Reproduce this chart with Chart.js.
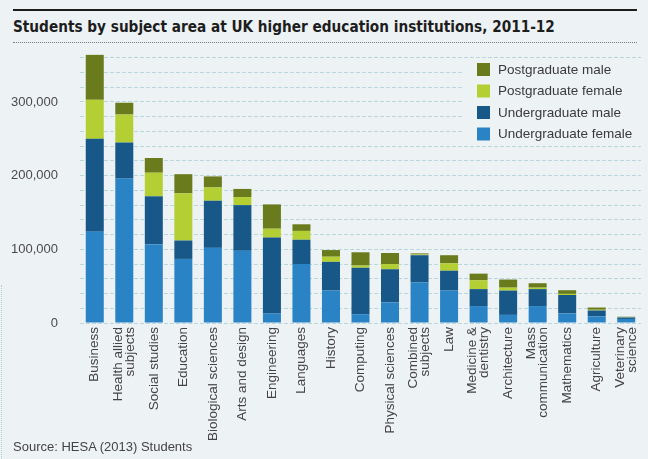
<!DOCTYPE html>
<html>
<head>
<meta charset="utf-8">
<script src="https://cdn.jsdelivr.net/npm/chart.js@4/dist/chart.umd.min.js"></script>
<style>
  html, body { margin: 0; padding: 0; background: #edf2f5; }
  body { width: 648px; height: 459px; position: relative; overflow: hidden; font-family: "Liberation Sans", Arial, sans-serif; }
  #topline { position: absolute; left: 13px; top: 9px; width: 624px; height: 0; border-top: 2px solid #1d1d1d; }
  #title { position: absolute; left: 13px; top: 18px; font-family: "DejaVu Sans Condensed", "Liberation Sans", sans-serif; font-weight: bold; font-size: 15.2px; color: #1d1d1d; white-space: nowrap; }
  #dotline { position: absolute; left: 13px; top: 42px; width: 624px; height: 0; border-top: 1px dotted #7a7a7a; }
  #leftdots { position: absolute; left: 1px; top: 285px; width: 0; height: 174px; border-left: 1px dotted #b5cbd3; }
  #source { position: absolute; left: 13px; top: 439px; font-size: 13px; color: #444; white-space: nowrap; }
  #c { position: absolute; left: 0; top: 28px; }
</style>
</head>
<body>
<div id="topline"></div>
<div id="title">Students by subject area at UK higher education institutions, 2011-12</div>
<div id="dotline"></div>
<div id="leftdots"></div>
<canvas id="c" width="648" height="431"></canvas>
<div id="source">Source: HESA (2013) Students</div>
<script>
const categories = [
  "Business", ["Health allied", "subjects"], "Social studies", "Education",
  "Biological sciences", "Arts and design", "Engineering", "Languages", "History",
  "Computing", "Physical sciences", ["Combined", "subjects"], "Law",
  ["Medicine &", "dentistry"], "Architecture", ["Mass", "communication"],
  "Mathematics", "Agriculture", ["Veterinary", "science"]
];
const undergraduateFemale = [124000, 196000, 107000, 87000, 102000, 98000, 13000, 80000, 44000, 12000, 28000, 55000, 44000, 23000, 11000, 23000, 13000, 9000, 5500];
const undergraduateMale   = [126000, 49000, 65000, 25000, 64000, 62000, 103000, 33000, 39000, 63000, 45000, 37000, 27000, 23000, 33000, 23000, 25000, 8000, 2000];
const postgraduateFemale  = [53000, 38000, 32000, 64000, 18000, 11000, 12000, 12000, 7000, 3000, 7000, 1000, 10000, 12000, 4000, 2000, 1500, 1000, 500];
const postgraduateMale    = [61000, 16000, 20000, 26000, 15000, 11000, 33000, 9000, 9000, 18000, 15000, 1500, 11000, 9000, 11000, 6000, 5000, 3000, 500];
const yTickLabels = [0, 100000, 200000, 300000];

const BG = '#edf2f5';
const CANVAS_TOP = 28;

const floatingLegend = {
  id: 'floatingLegend',
  afterDraw(chart) {
    const ctx = chart.ctx;
    ctx.save();
    ctx.fillStyle = BG;
    ctx.fillRect(463, 60 - CANVAS_TOP, 178, 85);
    const items = chart.data.datasets.slice().reverse();
    ctx.font = '13.5px "Liberation Sans", Arial, sans-serif';
    ctx.textBaseline = 'middle';
    ctx.textAlign = 'left';
    items.forEach((ds, i) => {
      const y = 63 - CANVAS_TOP + i * 21.5;
      ctx.fillStyle = ds.backgroundColor;
      ctx.fillRect(477, y, 13, 13);
      ctx.fillStyle = '#3a3a3a';
      ctx.fillText(ds.label, 498, y + 7);
    });
    ctx.restore();
  }
};

const xLabels = {
  id: 'xLabels',
  afterDraw(chart) {
    const ctx = chart.ctx;
    const xs = chart.scales.x;
    const top = chart.chartArea.bottom + 4;
    const lh = 12;
    ctx.save();
    ctx.font = '13.5px "Liberation Sans", Arial, sans-serif';
    ctx.fillStyle = '#444';
    ctx.textAlign = 'right';
    ctx.textBaseline = 'middle';
    chart.data.labels.forEach((lab, i) => {
      const lines = Array.isArray(lab) ? lab : [lab];
      const x = xs.getPixelForValue(i);
      ctx.save();
      ctx.translate(x, top);
      ctx.rotate(-Math.PI / 2);
      lines.forEach((ln, j) => {
        ctx.fillText(ln, 0, (j - (lines.length - 1) / 2) * lh);
      });
      ctx.restore();
    });
    ctx.restore();
  }
};

new Chart(document.getElementById('c'), {
  type: 'bar',
  data: {
    labels: categories,
    datasets: [
      { label: 'Undergraduate female', data: undergraduateFemale, backgroundColor: '#2a83c5', clip: false },
      { label: 'Undergraduate male', data: undergraduateMale, backgroundColor: '#185888', clip: false },
      { label: 'Postgraduate female', data: postgraduateFemale, backgroundColor: '#b4cf34', clip: false },
      { label: 'Postgraduate male', data: postgraduateMale, backgroundColor: '#6a7b1d', clip: false }
    ]
  },
  options: {
    responsive: false,
    animation: false,
    layout: { padding: { top: 13, right: 7, left: 0, bottom: 0 } },
    datasets: { bar: { categoryPercentage: 1, barPercentage: 0.61 } },
    plugins: { legend: { display: false }, tooltip: { enabled: false }, title: { display: false } },
    scales: {
      x: {
        stacked: true,
        grid: { display: false },
        border: { display: false },
        ticks: { display: false },
        afterFit(s) { s.height = 136; }
      },
      y: {
        stacked: true,
        min: 0, max: 360000,
        grid: { color: '#bcd6de', lineWidth: 1, drawTicks: false },
        border: { display: false, dash: [4, 2] },
        ticks: {
          stepSize: 20000, padding: 22, autoSkip: false,
          color: '#4a4a4a', font: { family: '"Liberation Sans", Arial, sans-serif', size: 13 },
          callback: (v) => yTickLabels.includes(v) ? v.toLocaleString('en-GB') : ''
        },
        afterFit(s) { s.width = 80; }
      }
    }
  },
  plugins: [floatingLegend, xLabels]
});
</script>
</body>
</html>
